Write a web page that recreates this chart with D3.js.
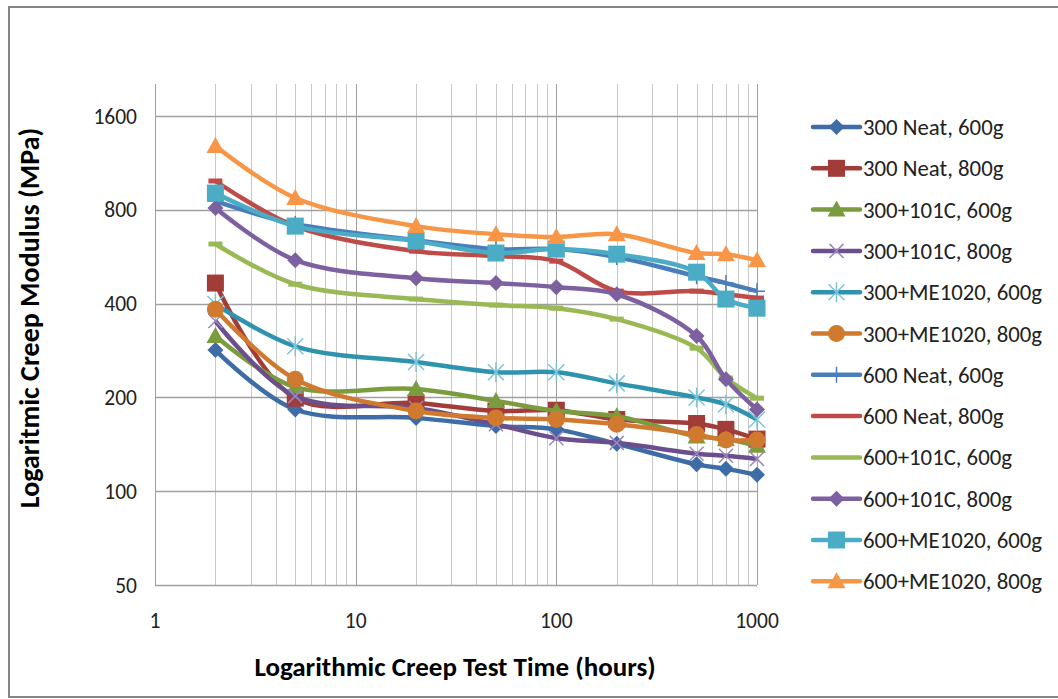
<!DOCTYPE html>
<html>
<head>
<meta charset="utf-8">
<script src="https://cdn.jsdelivr.net/npm/d3@7"></script>
<style>
  body { margin: 0; background: #fff; }
  svg { display: block; font-family: Carlito, Lato, "Open Sans", sans-serif; }
</style>
</head>
<body>
<svg id="chart"></svg>
<script>
var width = 1058, height = 699;

// hours
var times = [2, 5, 20, 50, 100, 200, 500, 700, 1000];

var seriesNames = [
  "300 Neat, 600g", "300 Neat, 800g", "300+101C, 600g", "300+101C, 800g",
  "300+ME1020, 600g", "300+ME1020, 800g", "600 Neat, 600g", "600 Neat, 800g",
  "600+101C, 600g", "600+101C, 800g", "600+ME1020, 600g", "600+ME1020, 800g"
];

// creep modulus, MPa
var neat300_600 = [284, 183, 172, 162, 158, 142, 122, 118, 113];
var neat300_800 = [466, 199, 192, 181, 182, 170, 165, 158, 147];
var c101_300_600 = [315, 216, 213, 195, 181, 174, 150, 147, 140];
var c101_300_800 = [352, 202, 185, 164, 148, 143, 132, 130, 127];
var me_300_600 = [399, 292, 260, 241, 241, 222, 200, 190, 170];
var me_300_800 = [384, 229, 181, 172, 170, 164, 152, 146, 146];
var neat600_600 = [854, 721, 640, 599, 599, 565, 490, 466, 439];
var neat600_800 = [991, 710, 590, 569, 548, 439, 439, 429, 417];
var c101_600_600 = [622, 462, 414, 396, 387, 357, 288, 231, 199];
var c101_600_800 = [811, 552, 483, 466, 452, 429, 315, 229, 183];
var me_600_600 = [906, 710, 636, 582, 599, 577, 505, 414, 387];
var me_600_800 = [1283, 874, 710, 669, 655, 669, 582, 577, 552];

var seriesValues = [neat300_600, neat300_800, c101_300_600, c101_300_800,
  me_300_600, me_300_800, neat600_600, neat600_800,
  c101_600_600, c101_600_800, me_600_600, me_600_800];

var colors = ["#3d6ca7", "#a23c39", "#7b9c3e", "#6a4f8c", "#2f93ad", "#d07a2f",
  "#4a7ebb", "#be4b48", "#98b954", "#7d60a0", "#4bacc6", "#f79646"];
var markerColors = ["#3d6ca7", "#a23c39", "#7b9c3e", "#9b86bd", "#7fc3d8", "#d07a2f",
  "#4a7ebb", "#be4b48", "#98b954", "#7d60a0", "#4bacc6", "#f79646"];
var markerTypes = ["diamond", "square", "triangle", "x", "star", "circle",
  "plus", "dash", "dash", "diamond", "square", "triangle"];

var yTicks = [50, 100, 200, 400, 800, 1600];
var xTicks = [1, 10, 100, 1000];

var svg = d3.select("#chart").attr("width", width).attr("height", height);

svg.append("rect")
  .attr("x", 9).attr("y", 7)
  .attr("width", width).attr("height", 690)
  .attr("fill", "#fff")
  .attr("stroke", "#868686")
  .attr("stroke-width", 2);

var x = d3.scaleLog().domain([1, 1000]).range([155, 757]);
var y = d3.scaleLog().base(2).domain([50, 2030]).range([585, 84]);

var grid = svg.append("g");

// minor vertical gridlines
var minor = [];
for (var d = 1; d <= 100; d *= 10)
  for (var k = 2; k <= 9; k++) minor.push(d * k);

grid.selectAll("line.minor").data(minor).enter().append("line")
  .attr("class", "minor")
  .attr("x1", function (d) { return Math.round(x(d)) + 0.5; })
  .attr("x2", function (d) { return Math.round(x(d)) + 0.5; })
  .attr("y1", 84).attr("y2", 585)
  .attr("stroke", "#c8c8c8").attr("stroke-width", 1);

grid.selectAll("line.major").data(xTicks).enter().append("line")
  .attr("class", "major")
  .attr("x1", function (d) { return Math.round(x(d)) + 0.5; })
  .attr("x2", function (d) { return Math.round(x(d)) + 0.5; })
  .attr("y1", 84).attr("y2", 585)
  .attr("stroke", "#a0a0a0").attr("stroke-width", 1);

grid.selectAll("line.h").data(yTicks).enter().append("line")
  .attr("class", "h")
  .attr("x1", 155).attr("x2", 757)
  .attr("y1", function (d) { return Math.round(y(d)) + 0.5; })
  .attr("y2", function (d) { return Math.round(y(d)) + 0.5; })
  .attr("stroke", "#a0a0a0").attr("stroke-width", 1.5);

// tick labels
svg.append("g").selectAll("text").data(yTicks).enter().append("text")
  .attr("x", 137)
  .attr("y", function (d) { return y(d) + 7.5; })
  .attr("text-anchor", "end")
  .attr("font-size", 21.5)
  .attr("fill", "#222")
  .text(function (d) { return d; });

svg.append("g").selectAll("text").data(xTicks).enter().append("text")
  .attr("x", function (d) { return x(d); })
  .attr("y", 628)
  .attr("text-anchor", "middle")
  .attr("font-size", 21.5)
  .attr("fill", "#222")
  .text(function (d) { return d; });

svg.append("text")
  .attr("transform", "translate(39,318) rotate(-90)")
  .attr("text-anchor", "middle")
  .attr("font-size", 28)
  .attr("font-weight", "bold")
  .text("Logaritmic Creep Modulus (MPa)");

svg.append("text")
  .attr("x", 455).attr("y", 676)
  .attr("text-anchor", "middle")
  .attr("font-size", 27)
  .attr("font-weight", "bold")
  .text("Logarithmic Creep Test Time (hours)");

function drawMarker(g, type, cx, cy, fill) {
  if (type === "diamond") {
    g.append("path")
      .attr("d", "M" + cx + "," + (cy - 8) + "L" + (cx + 8) + "," + cy + "L" + cx + "," + (cy + 8) + "L" + (cx - 8) + "," + cy + "Z")
      .attr("fill", fill);
  } else if (type === "square") {
    g.append("rect").attr("x", cx - 8.5).attr("y", cy - 8.5)
      .attr("width", 17).attr("height", 17).attr("fill", fill);
  } else if (type === "triangle") {
    g.append("path")
      .attr("d", "M" + cx + "," + (cy - 9) + "L" + (cx + 9) + "," + (cy + 7) + "L" + (cx - 9) + "," + (cy + 7) + "Z")
      .attr("fill", fill);
  } else if (type === "circle") {
    g.append("circle").attr("cx", cx).attr("cy", cy).attr("r", 8.5).attr("fill", fill);
  } else if (type === "x") {
    g.append("path")
      .attr("d", "M" + (cx - 7) + "," + (cy - 7) + "L" + (cx + 7) + "," + (cy + 7) + "M" + (cx + 7) + "," + (cy - 7) + "L" + (cx - 7) + "," + (cy + 7))
      .attr("stroke", fill).attr("stroke-width", 1.5).attr("fill", "none");
  } else if (type === "star") {
    g.append("path")
      .attr("d", "M" + (cx - 8) + "," + (cy - 8) + "L" + (cx + 8) + "," + (cy + 8) + "M" + (cx + 8) + "," + (cy - 8) + "L" + (cx - 8) + "," + (cy + 8) +
        "M" + cx + "," + (cy - 10) + "L" + cx + "," + (cy + 10))
      .attr("stroke", fill).attr("stroke-width", 1.5).attr("fill", "none");
  } else if (type === "plus") {
    g.append("path")
      .attr("d", "M" + cx + "," + (cy - 8) + "L" + cx + "," + (cy + 8) + "M" + (cx - 8) + "," + cy + "L" + (cx + 8) + "," + cy)
      .attr("stroke", fill).attr("stroke-width", 1.5).attr("fill", "none");
  } else if (type === "dash") {
    g.append("line").attr("x1", cx - 7).attr("x2", cx + 7)
      .attr("y1", cy).attr("y2", cy)
      .attr("stroke", fill).attr("stroke-width", 5);
  }
}

var line = d3.line()
  .x(function (d) { return x(d[0]); })
  .y(function (d) { return y(d[1]); })
  .curve(d3.curveCatmullRom.alpha(0.5));

var plot = svg.append("g");
seriesValues.forEach(function (vals, i) {
  var pts = times.map(function (t, j) { return [t, vals[j]]; });
  var g = plot.append("g");
  g.append("path")
    .datum(pts)
    .attr("d", line)
    .attr("fill", "none")
    .attr("stroke", colors[i])
    .attr("stroke-width", 4.5)
    .attr("stroke-linejoin", "round");
  pts.forEach(function (p) {
    drawMarker(g, markerTypes[i], x(p[0]), y(p[1]), markerColors[i]);
  });
});

// legend
var legend = svg.append("g");
seriesNames.forEach(function (name, i) {
  var ly = 127 + i * 41.3;
  var g = legend.append("g");
  g.append("line")
    .attr("x1", 813).attr("x2", 860)
    .attr("y1", ly).attr("y2", ly)
    .attr("stroke", colors[i]).attr("stroke-width", 4.5)
    .attr("stroke-linecap", "round");
  if (markerTypes[i] !== "dash")
    drawMarker(g, markerTypes[i], 836.5, ly, markerColors[i]);
  g.append("text")
    .attr("x", 863).attr("y", ly + 8)
    .attr("font-size", 22.8)
    .attr("fill", "#222")
    .text(name);
});
</script>
</body>
</html>
